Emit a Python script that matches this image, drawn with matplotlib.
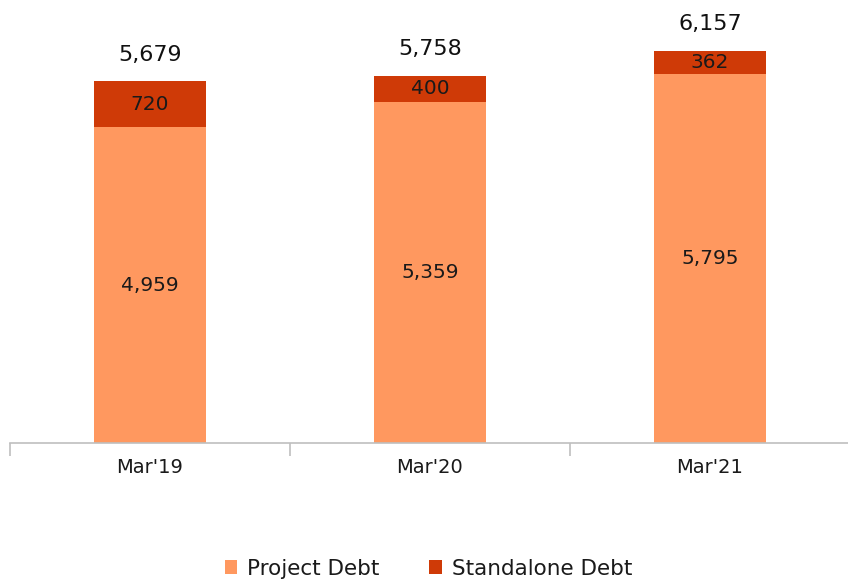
import matplotlib.pyplot as plt

categories = ["Mar'19", "Mar'20", "Mar'21"]
project_debt = [4959, 5359, 5795]
standalone_debt = [720, 400, 362]
totals = [5679, 5758, 6157]

c_project = '#FF985F'
c_standalone = '#CF3A07'

plt.rcParams['font.family'] = ['DejaVu Sans']

fig = plt.figure(figsize=(8.48, 5.82), dpi=100)
ax = fig.add_axes([10 / 848, 139 / 582, 840 / 848, 443 / 582])

x = list(range(len(categories)))
ax.bar(x, project_debt, width=0.4, color=c_project, label='Project Debt', zorder=2)
ax.bar(x, standalone_debt, width=0.4, bottom=project_debt, color=c_standalone,
       label='Standalone Debt', zorder=2)

for i in x:
    ax.text(i, project_debt[i] / 2, '{:,}'.format(project_debt[i]), ha='center', va='center',
            fontsize=14.5, color='#1a1a1a')
    ax.text(i, project_debt[i] + standalone_debt[i] / 2, '{:,}'.format(standalone_debt[i]),
            ha='center', va='center', fontsize=14.5, color='#1a1a1a')
    ax.text(i, totals[i] + 420, '{:,}'.format(totals[i]), ha='center', va='center',
            fontsize=16, color='#111111')

ax.set_xlim(-0.5, 2.5)
ax.set_ylim(0, 6955)
ax.set_yticks([])
for s in ['top', 'right', 'left']:
    ax.spines[s].set_visible(False)
ax.spines['bottom'].set_color('#BFBFBF')
ax.spines['bottom'].set_linewidth(1.2)

ax.set_xticks(x)
ax.set_xticklabels(categories, fontsize=14, color='#1a1a1a')
ax.tick_params(axis='x', length=0, pad=11)
ax.set_xticks([-0.5, 0.5, 1.5, 2.5], minor=True)
ax.tick_params(axis='x', which='minor', length=9, color='#BFBFBF', width=1.2, direction='out')

fig.legend(loc='lower center', bbox_to_anchor=(0.505, -0.028), ncol=2, frameon=False,
           fontsize=15.5, handlelength=0.6, handleheight=0.6, columnspacing=2.3,
           handletextpad=0.45, labelcolor='#1a1a1a')

fig.savefig('out.png', dpi=100)
